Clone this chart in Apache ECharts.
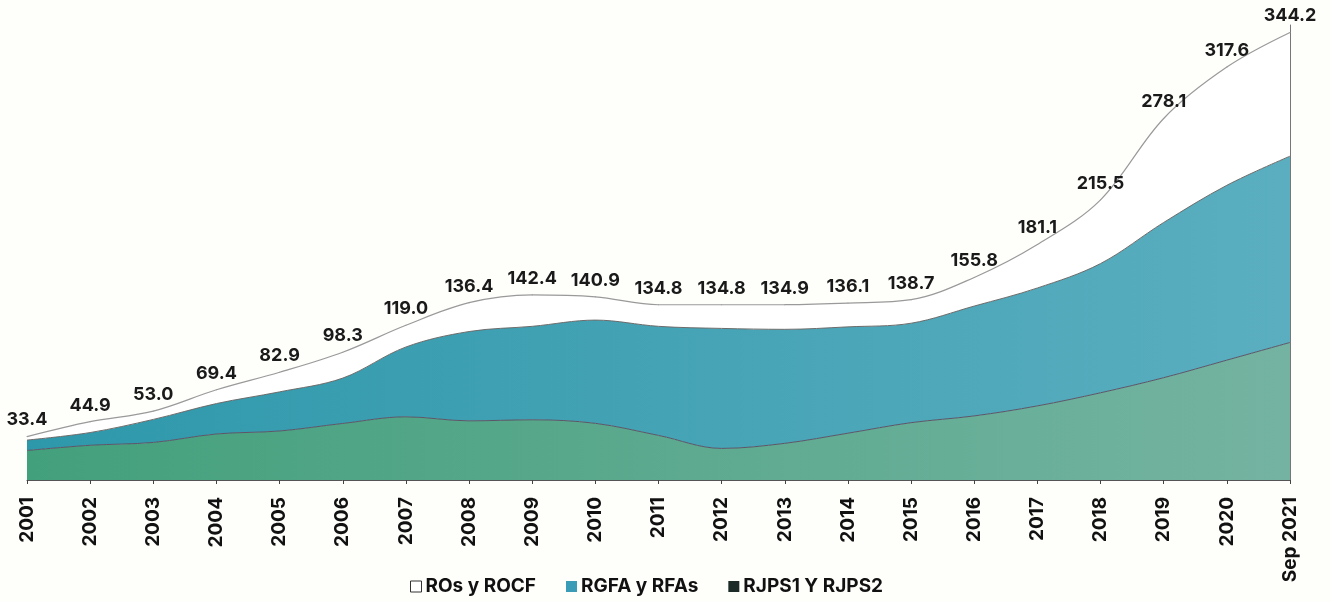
<!DOCTYPE html>
<html>
<head>
<meta charset="utf-8">
<script src="https://cdn.jsdelivr.net/npm/echarts@6/dist/echarts.min.js"></script>
<style>
  html, body { margin: 0; padding: 0; background: #fefefb; }
  #chart { width: 1330px; height: 602px; }
</style>
</head>
<body>
<div id="chart"></div>
<script>
const years = ['2001', '2002', '2003', '2004', '2005', '2006', '2007', '2008', '2009', '2010',
  '2011', '2012', '2013', '2014', '2015', '2016', '2017', '2018', '2019', '2020', 'Sep 2021'];

// totals printed above the top line
const totals = [33.4, 44.9, 53.0, 69.4, 82.9, 98.3, 119.0, 136.4, 142.4, 140.9,
  134.8, 134.8, 134.9, 136.1, 138.7, 155.8, 181.1, 215.5, 278.1, 317.6, 344.2];

// stacked layers, bottom to top
const rjps = [22.7, 26.7, 28.9, 35.4, 37.7, 43.5, 48.6, 45.5, 46.3, 43.6,
  34.3, 24.3, 28.2, 36.0, 44.1, 49.3, 57.0, 67.1, 78.7, 92.2, 105.8];
const rgfa = [8.0, 9.8, 17.7, 23.4, 30.1, 34.9, 53.7, 68.7, 71.9, 79.4,
  83.9, 92.3, 87.7, 81.8, 76.5, 84.5, 90.7, 99.4, 119.4, 134.5, 143.3];
const ros = [2.7, 8.4, 6.4, 10.6, 15.1, 19.9, 16.7, 22.2, 24.2, 17.9,
  16.6, 18.2, 19.0, 18.3, 18.1, 22.0, 33.4, 49.0, 80.0, 90.9, 95.1];

const names = ['ROs y ROCF', 'RGFA y RFAs', 'RJPS1 Y RJPS2'];

const font = 'Inter, "Noto Sans", sans-serif';

function hGrad(a, b) {
  return new echarts.graphic.LinearGradient(0, 0, 1, 0, [
    { offset: 0, color: a },
    { offset: 1, color: b }
  ]);
}

const chart = echarts.init(document.getElementById('chart'), null, { renderer: 'canvas' });

chart.setOption({
  backgroundColor: '#fefefb',
  animation: false,
  grid: { left: 27, right: 40, top: 25, bottom: 122 },
  legend: {
    left: 405,
    bottom: 1,
    itemWidth: 11,
    itemHeight: 11,
    itemGap: 30,
    icon: 'rect',
    textStyle: { fontFamily: font, fontWeight: 'bold', fontSize: 19, color: '#111', padding: [0, 0, 0, -1] },
    data: [
      { name: names[0], itemStyle: { color: '#ffffff', borderColor: '#333', borderWidth: 1, opacity: 1 } },
      { name: names[1], itemStyle: { color: '#3a9cb6' } },
      { name: names[2], itemStyle: { color: '#1d2b28' } }
    ]
  },
  xAxis: {
    type: 'category',
    data: years,
    boundaryGap: false,
    axisLine: { lineStyle: { color: '#555', width: 1 } },
    axisTick: { show: true, length: 4, lineStyle: { color: '#444' } },
    axisLabel: {
      rotate: 90,
      margin: 17,
      interval: 0,
      fontFamily: font,
      fontWeight: 'bold',
      fontSize: 19,
      color: '#111'
    }
  },
  yAxis: {
    type: 'value',
    min: 0,
    max: 350,
    position: 'right',
    axisLine: { show: true, lineStyle: { color: '#777', width: 1 } },
    axisTick: { show: false },
    axisLabel: { show: false },
    splitLine: { show: false }
  },
  series: [
    {
      name: names[2],
      type: 'line',
      stack: 'total',
      smooth: 0.35,
      symbol: 'none',
      lineStyle: { color: '#5b5566', width: 1 },
      areaStyle: { color: hGrad('#43a07c', '#74b3a1'), opacity: 1 },
      data: rjps
    },
    {
      name: names[1],
      type: 'line',
      stack: 'total',
      smooth: 0.35,
      symbol: 'none',
      lineStyle: { color: '#6b6b6b', width: 1 },
      areaStyle: { color: hGrad('#2e98ab', '#5aaebf'), opacity: 1 },
      data: rgfa
    },
    {
      name: names[0],
      type: 'line',
      stack: 'total',
      smooth: 0.35,
      symbol: 'circle',
      symbolSize: 1,
      showSymbol: true,
      showAllSymbol: true,
      itemStyle: { color: '#9a9a9a' },
      lineStyle: { color: '#9a9a9a', width: 1.2 },
      areaStyle: { color: '#ffffff', opacity: 1 },
      labelLayout: { hideOverlap: false },
      label: {
        show: true,
        position: 'top',
        distance: 7,
        offset: [-4, 0],
        fontFamily: font,
        fontWeight: 'bold',
        fontSize: 18,
        color: '#1a1a1a',
        formatter: p => totals[p.dataIndex].toFixed(1)
      },
      data: ros.map((v, i) => i === 0 ? { value: v, label: { offset: [5, 0] } } : v)
    }
  ]
});
</script>
</body>
</html>
